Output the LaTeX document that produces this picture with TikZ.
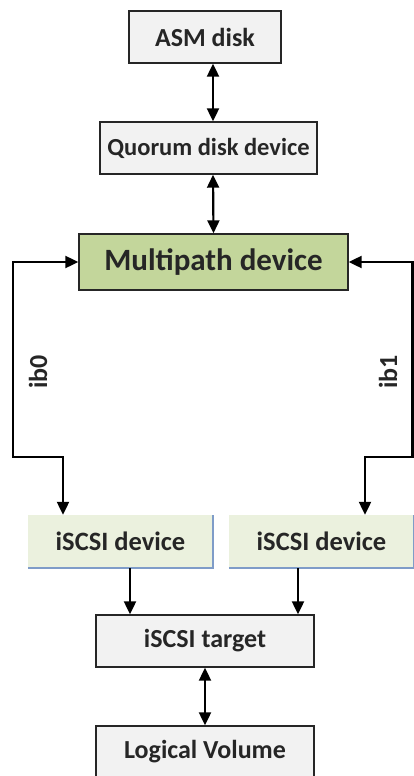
\documentclass[tikz,border=0pt]{standalone}
\usepackage{fontspec}
\setmainfont{Carlito}
\usetikzlibrary{arrows.meta}

\definecolor{boxgray}{HTML}{F2F2F2}
\definecolor{mpgreen}{HTML}{C3D69B}
\definecolor{devgreen}{HTML}{EBF1DE}
\definecolor{devedge}{HTML}{7F9CC8}
\definecolor{txt}{HTML}{262626}

\tikzset{
  box/.style={draw=black!85, line width=1.4pt, fill=boxgray, text=txt,
    font=\fontsize{26}{30}\selectfont\bfseries, inner sep=0pt},
  mpbox/.style={box, fill=mpgreen, font=\fontsize{31}{35}\selectfont\bfseries},
  devbox/.style={fill=devgreen, text=txt, inner sep=0pt,
    font=\fontsize{26.5}{30}\selectfont\bfseries,
    minimum width=185pt, minimum height=53pt},
  link/.style={line width=2.2pt, -{Triangle[length=13pt,width=12pt]}},
  dlink/.style={line width=2.2pt, {Triangle[length=13pt,width=12pt]}-{Triangle[length=13pt,width=12pt]}},
  iblabel/.style={rotate=90, text=txt, font=\fontsize{26}{30}\selectfont\bfseries}
}

\begin{document}
\begin{tikzpicture}[x=1pt,y=1pt]

   \useasboundingbox (0,0) rectangle (414,-776);

   \node[box, minimum width=152pt, minimum height=52pt] (asm) at (205,-37) {ASM disk};
   \node[box, minimum width=217pt, minimum height=52pt, font=\fontsize{24.5}{28}\selectfont\bfseries] (quorum) at (208.5,-148) {Quorum disk device};
   \node[mpbox, minimum width=269pt, minimum height=56pt] (multi) at (213.5,-262) {Multipath device};

   \node[devbox] (dev0) at (120.5,-541.5) {iSCSI device};
   \node[devbox] (dev1) at (321.5,-541.5) {iSCSI device};
   \draw[devedge, line width=1.5pt] (dev0.south west) -- (dev0.south east) -- (dev0.north east);
   \draw[devedge, line width=1.5pt] (dev1.south west) -- (dev1.south east) -- (dev1.north east);

   \node[box, minimum width=218pt, minimum height=52pt] (target) at (205,-641) {iSCSI target};
   \node[box, minimum width=218pt, minimum height=52pt] (lv) at (205,-752) {Logical Volume};

   \draw[dlink] ([xshift=8pt]asm.south) -- ([xshift=4.5pt]quorum.north);
   \draw[dlink] ([xshift=4.5pt]quorum.south) -- (multi.north);

   % ib0 / ib1 paths
   \coordinate (l0) at (13,-457);
   \coordinate (r0) at (412.5,-457);
   \draw[dlink] (multi.west) -| (l0) -| ([xshift=-57.5pt]dev0.north);
   \draw[dlink] (multi.east) -| (r0) -| ([xshift=43.5pt]dev1.north);

   \node[iblabel] (ib0) at (38,-372) {ib0};
   \node[iblabel] (ib1) at (388,-372) {ib1};

   \draw[link] ([xshift=9.5pt]dev0.south) -- ([xshift=9.5pt]dev0.south |- target.north);
   \draw[link] ([xshift=-23.5pt]dev1.south) -- ([xshift=-23.5pt]dev1.south |- target.north);

   \draw[dlink] (target.south) -- (lv.north);

\end{tikzpicture}
\end{document}
